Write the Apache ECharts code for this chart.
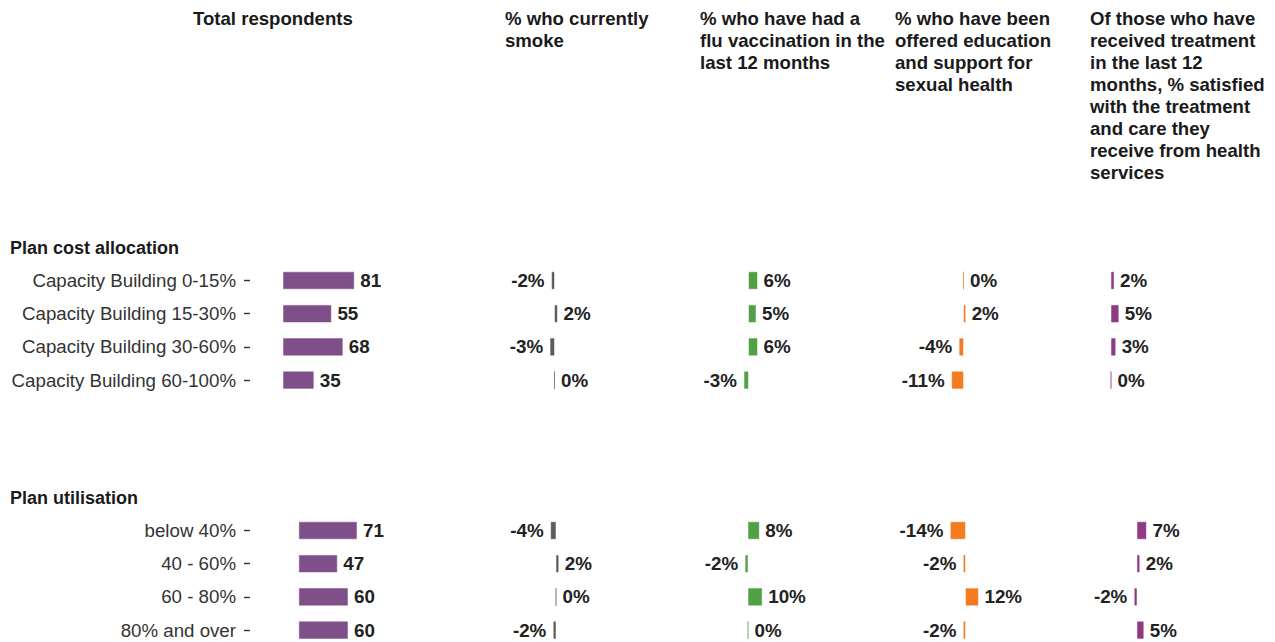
<!DOCTYPE html>
<html>
<head>
<meta charset="utf-8">
<script src="https://cdn.jsdelivr.net/npm/echarts@6/dist/echarts.min.js"></script>
<style>html,body{margin:0;padding:0;background:#fff}#c{width:1275px;height:642px}</style>
</head>
<body>
<div id="c"></div>
<script>
// ---- data ----
const costCategories = ["Capacity Building 0-15%", "Capacity Building 15-30%", "Capacity Building 30-60%", "Capacity Building 60-100%"];
const utilCategories = ["below 40%", "40 - 60%", "60 - 80%", "80% and over"];

const costTotal = [81, 55, 68, 35];
const costSmoke = [-2, 2, -3, 0];
const costFlu = [6, 5, 6, -3];
const costSexual = [0, 2, -4, -11];
const costSatisfied = [2, 5, 3, 0];

const utilTotal = [71, 47, 60, 60];
const utilSmoke = [-4, 2, 0, -2];
const utilFlu = [8, -2, 10, 0];
const utilSexual = [-14, -2, 12, -2];
const utilSatisfied = [7, 2, -2, 5];

const columnHeaders = [
  "Total respondents",
  "% who currently\nsmoke",
  "% who have had a\nflu vaccination in the\nlast 12 months",
  "% who have been\noffered education\nand support for\nsexual health",
  "Of those who have\nreceived treatment\nin the last 12\nmonths, % satisfied\nwith the treatment\nand care they\nreceive from health\nservices"
];
const panelTitles = ["Plan cost allocation", "Plan utilisation"];

// ---- styling / layout ----
const FONT = '"Liberation Sans", Arial, sans-serif';
const colColors = ['#7f4f8a', '#5c5c5c', '#52a044', '#f47b20', '#8f3a83'];
const headerX = [193, 505, 700, 895, 1090];
const axisX = 250;

function rgba(hex, a) {
  const n = parseInt(hex.slice(1), 16);
  return 'rgba(' + ((n >> 16) & 255) + ',' + ((n >> 8) & 255) + ',' + (n & 255) + ',' + a + ')';
}

const panels = [
  { cats: costCategories, cols: [costTotal, costSmoke, costFlu, costSexual, costSatisfied], top: 263.9, titleTop: 237,
    layout: [{ zero: 283, s: 0.88 }, { zero: 554.5, s: 1.47 }, { zero: 748.5, s: 1.5 }, { zero: 963.5, s: 1.08 }, { zero: 1111, s: 1.55 }] },
  { cats: utilCategories, cols: [utilTotal, utilSmoke, utilFlu, utilSexual, utilSatisfied], top: 513.9, titleTop: 487,
    layout: [{ zero: 298.8, s: 0.82 }, { zero: 556, s: 1.35 }, { zero: 748, s: 1.42 }, { zero: 965.5, s: 1.08 }, { zero: 1137, s: 1.35 }] }
];

const grid = [], xAxis = [], yAxis = [], series = [];
panels.forEach(function (p) {
  p.cols.forEach(function (vals, ci) {
    const idx = grid.length;
    const L = p.layout[ci];
    const isTotal = ci === 0;
    // total column: axis starts at the tick position (axisX) so the y-axis sits there
    const min = isTotal ? -(L.zero - axisX) / L.s : -20;
    const max = isTotal ? 100 : 20;
    grid.push({ left: L.zero + min * L.s, width: (max - min) * L.s, top: p.top, height: 132.8,
      outerBoundsMode: 'none', containLabel: false });
    xAxis.push({ type: 'value', gridIndex: idx, min: min, max: max, show: false });
    yAxis.push({
      type: 'category', gridIndex: idx, data: p.cats, inverse: true,
      show: isTotal, position: 'left',
      axisLine: { show: false, onZero: false },
      axisTick: { show: isTotal, alignWithLabel: true, length: 6, lineStyle: { color: '#333', width: 1.4 } },
      axisLabel: { show: isTotal, margin: 14, color: '#333', fontFamily: FONT, fontSize: 18.7 }
    });
    const color = colColors[ci];
    series.push({
      type: 'bar', xAxisIndex: idx, yAxisIndex: idx, barWidth: 17.6, silent: true, animation: false,
      itemStyle: { color: color, borderColor: rgba(color, 0.5), borderWidth: 1 },
      data: vals.map(function (v) {
        return { value: v, label: { position: v < 0 ? 'left' : 'right', distance: v < 0 ? 7 : 6 } };
      }),
      label: {
        show: true, fontFamily: FONT, fontWeight: 'bold', fontSize: 18.8, color: '#222',
        formatter: isTotal ? '{c}' : '{c}%'
      }
    });
  });
});

const graphic = [];
columnHeaders.forEach(function (h, i) {
  graphic.push({ type: 'text', left: headerX[i], top: 7,
    style: { text: h, font: 'bold 18.6px ' + FONT, fill: '#1a1a1a', lineHeight: 22 } });
});
panels.forEach(function (p, i) {
  graphic.push({ type: 'text', left: 10, top: p.titleTop,
    style: { text: panelTitles[i], font: 'bold 18px ' + FONT, fill: '#1a1a1a', lineHeight: 22 } });
});

const chart = echarts.init(document.getElementById('c'), null, { renderer: 'svg', width: 1275, height: 642 });
chart.setOption({ animation: false, backgroundColor: '#fff', grid: grid, xAxis: xAxis, yAxis: yAxis, series: series, graphic: graphic });
</script>
</body>
</html>
